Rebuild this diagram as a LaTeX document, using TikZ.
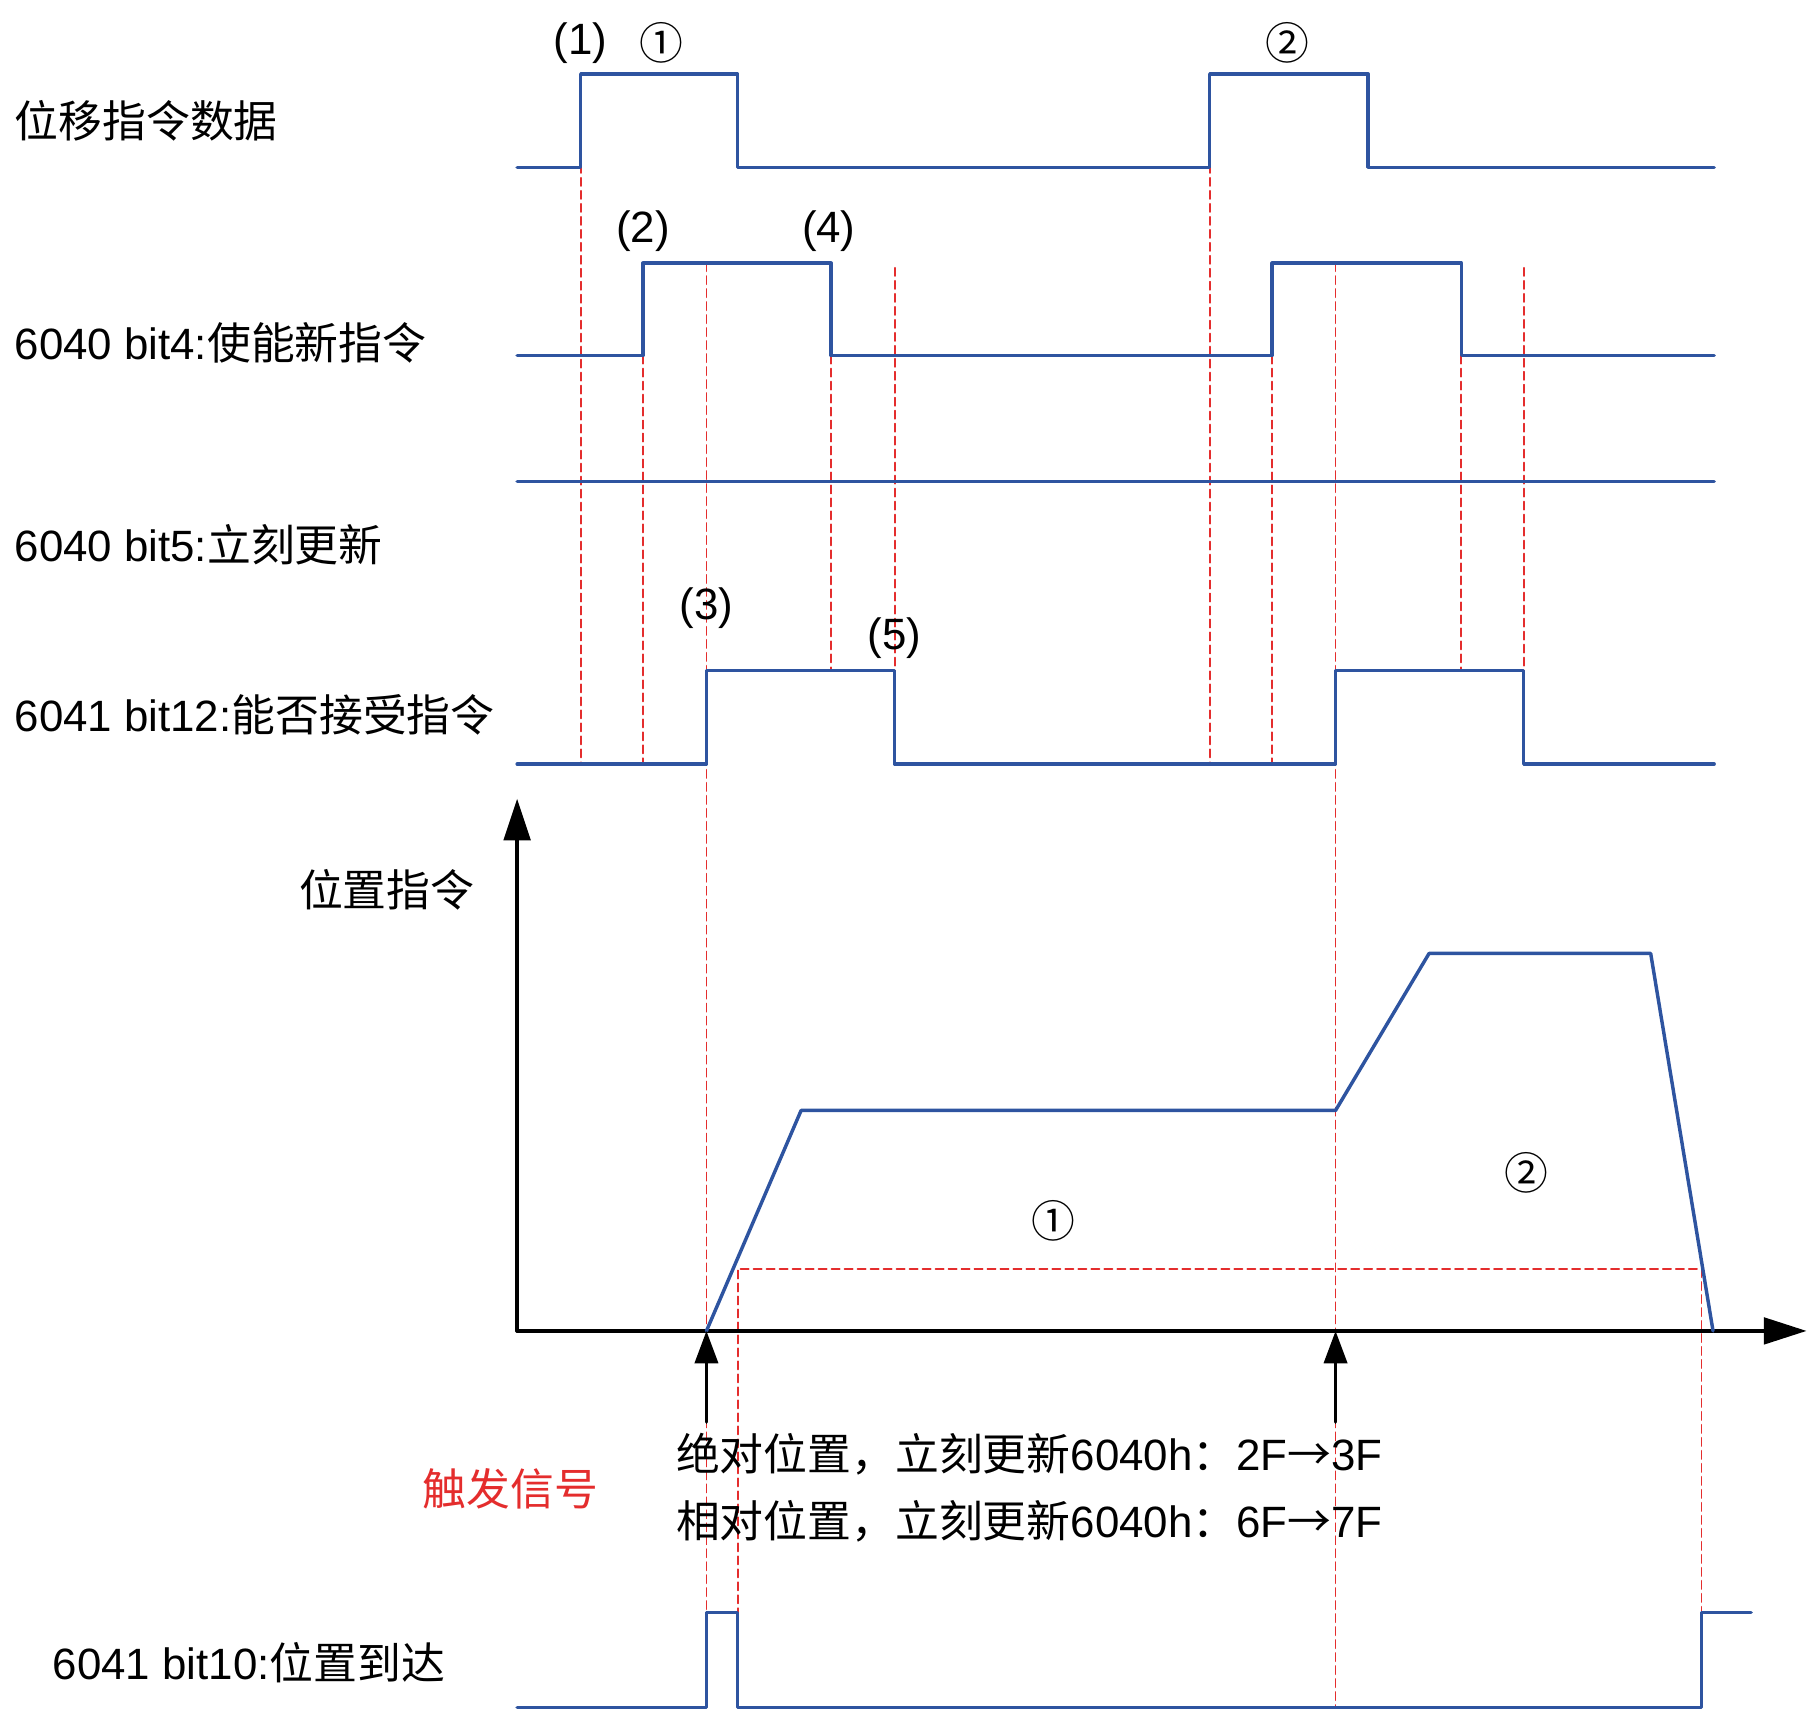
\documentclass[tikz,border=0pt]{standalone}
\usepackage{fontspec}
\setmainfont{Liberation Sans}
\newfontfamily\cjk{Noto Sans CJK SC}
\usetikzlibrary{arrows.meta}

\definecolor{sigblue}{RGB}{46,84,160}
\definecolor{guidered}{RGB}{228,45,45}

\begin{document}
\begin{tikzpicture}[x=0.01cm, y=-0.01cm, line join=round, line cap=round,
    sig/.style={draw=sigblue, line width=0.85pt},
    guide/.style={draw=guidered, line width=0.45pt, dash pattern=on 2pt off 1.2pt},
    axis/.style={draw=black, line width=0.85pt},
    lbl/.style={anchor=west, inner sep=0pt, font=\fontsize{10.8pt}{13pt}\selectfont},
    tag/.style={inner sep=0pt, font=\fontsize{10.8pt}{13pt}\selectfont}]
      \useasboundingbox (0,0) rectangle (1568,1483);

      % signal levels (low / high)
      \def\ya{145}  \def\yah{64}
      \def\yb{308}  \def\ybh{228}
      \def\yc{417}
      \def\yd{662}  \def\ydh{581}
      \def\ye{1479} \def\yeh{1397}
      \def\xs{448}  \def\xend{1485}

      % guide lines
      \draw[guide] (503,\yah) -- (503,\yd);
      \draw[guide] (557,\yb) -- (557,\yd);
      \draw[guide] (612,\ybh) -- (612,\ye);
      \draw[guide] (720,\yb) -- (720,\ydh);
      \draw[guide] (775,232) -- (775,\ydh);
      \draw[guide] (1048,\yah) -- (1048,\yd);
      \draw[guide] (1102,\yb) -- (1102,\yd);
      \draw[guide] (1157,\ybh) -- (1157,\ye);
      \draw[guide] (1266,\yb) -- (1266,\ydh);
      \draw[guide] (1320,232) -- (1320,\ydh);
      \draw[guide] (639,\ye) -- (639,1099) -- (1474,1099) -- (1474,\yeh);

      % digital signals
      \draw[sig] (\xs,\ya) -- (503,\ya) -- (503,\yah) -- (639,\yah) -- (639,\ya)
        -- (1048,\ya) -- (1048,\yah) -- (1185,\yah) -- (1185,\ya) -- (\xend,\ya);
      \draw[sig] (\xs,\yb) -- (557,\yb) -- (557,\ybh) -- (720,\ybh) -- (720,\yb)
        -- (1102,\yb) -- (1102,\ybh) -- (1266,\ybh) -- (1266,\yb) -- (\xend,\yb);
      \draw[sig] (\xs,\yc) -- (\xend,\yc);
      \draw[sig] (\xs,\yd) -- (612,\yd) -- (612,\ydh) -- (775,\ydh) -- (775,\yd)
        -- (1157,\yd) -- (1157,\ydh) -- (1320,\ydh) -- (1320,\yd) -- (\xend,\yd);
      \draw[sig] (\xs,\ye) -- (612,\ye) -- (612,\yeh) -- (639,\yeh) -- (639,\ye)
        -- (1474,\ye) -- (1474,\yeh) -- (1517,\yeh);

      % position command axes
      \coordinate (O) at (\xs,1153);
      \coordinate (Ytop) at (\xs,692);
      \coordinate (Xend) at (1565,1153);
      \draw[axis, -{Triangle[length=3.6mm, width=2.3mm]}] (O) -- (Ytop);
      \draw[axis, -{Triangle[length=3.7mm, width=2.3mm]}] (O) -- (Xend);

      % position profile
      \draw[sig] (612,1153) -- (694,962) -- (1157,962) -- (1238,826) -- (1430,826) -- (1484,1153);

      % trigger arrows
      \coordinate (trigA) at (612,1153);
      \coordinate (trigB) at (1157,1153);
      \coordinate (footA) at (612,1232);
      \coordinate (footB) at (1157,1232);
      \draw[axis, -{Triangle[length=2.8mm, width=2mm]}] (footA) -- (trigA);
      \draw[axis, -{Triangle[length=2.8mm, width=2mm]}] (footB) -- (trigB);

      % labels
      \node[lbl] (dispData) at (12,105) {\cjk 位移指令数据};
      \node[lbl] (bitFour) at (12,297) {6040 bit4:{\cjk 使能新指令}};
      \node[lbl] (bitFive) at (12,472) {6040 bit5:{\cjk 立刻更新}};
      \node[lbl] (bitTwelve) at (12,619) {6041 bit12:{\cjk 能否接受指令}};
      \node[lbl] (bitTen) at (45,1440) {6041 bit10:{\cjk 位置到达}};
      \node[tag] (posCmd) at (335,771) {\cjk 位置指令};
      \node[tag, text=guidered] (trigSig) at (442,1290) {\cjk 触发信号};
      \node[lbl] (absLine) at (585,1260) {{\cjk 绝对位置，立刻更新}6040h{\cjk ：}2F{\cjk →}3F};
      \node[lbl] (relLine) at (585,1318) {{\cjk 相对位置，立刻更新}6040h{\cjk ：}6F{\cjk →}7F};

      % step marks
      \node[tag] (stepOne) at (503,37) {(1)};
      \node[tag] (stepTwo) at (557,200) {(2)};
      \node[tag] (stepThree) at (612,527) {(3)};
      \node[tag] (stepFour) at (718,200) {(4)};
      \node[tag] (stepFive) at (775,553) {(5)};
      \node[tag] (cmdOne) at (573,37) {\cjk ①};
      \node[tag] (cmdTwo) at (1115,37) {\cjk ②};
      \node[tag] (areaOne) at (913,1058) {\cjk ①};
      \node[tag] (areaTwo) at (1322,1016) {\cjk ②};

\end{tikzpicture}
\end{document}
